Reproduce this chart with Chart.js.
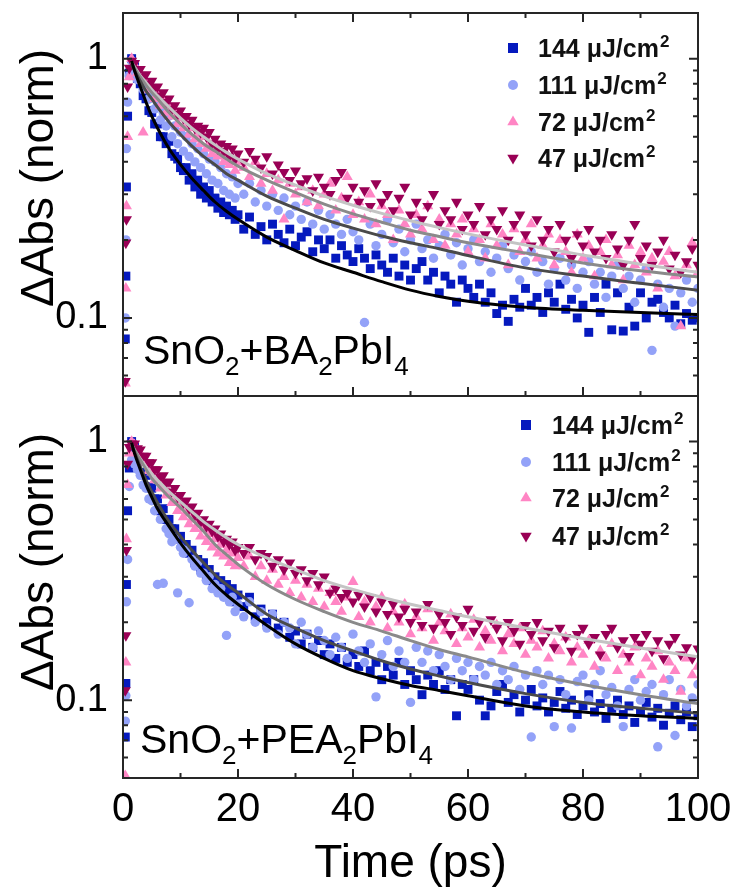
<!DOCTYPE html>
<html>
<head>
<meta charset="utf-8">
<script src="https://cdn.jsdelivr.net/npm/chart.js@4.4.1/dist/chart.umd.min.js"></script>
<style>
  html, body { margin: 0; padding: 0; background: #fff; }
  #wrap { position: relative; width: 741px; height: 892px; }
  #wrap canvas { position: absolute; left: 0; top: 0; }
</style>
</head>
<body>
<div id="wrap">
  <canvas id="topChart" width="741" height="892"></canvas>
  <canvas id="botChart" width="741" height="892"></canvas>
</div>
<script>
// time axis of the transient absorption traces (ps), shared by all traces
const timePs = [
  0.4, 0.5, 0.6, 0.8, 1.1, 1.5,
  2, 2.5, 3, 3.5, 4, 4.5, 5, 5.5, 6, 6.5,
  7, 7.5, 8, 8.5, 9, 9.5, 10, 10.5, 11, 11.5,
  12, 12.5, 13, 13.5, 14, 14.5, 15, 15.5, 16, 16.5,
  17, 17.5, 18, 18.5, 19, 19.5, 20,
  21, 22, 23, 24, 25, 26, 27, 28, 29, 30,
  31, 32, 33, 34, 35, 36, 37, 38, 39, 40,
  41, 42, 43, 44, 45, 46, 47, 48, 49, 50,
  51, 52, 53, 54, 55, 56, 57, 58, 59, 60,
  61, 62, 63, 64, 65, 66, 67, 68, 69, 70,
  71, 72, 73, 74, 75, 76, 77, 78, 79, 80,
  81, 82, 83, 84, 85, 86, 87, 88, 89, 90,
  91, 92, 93, 94, 95, 96, 97, 98, 99, 100
];

const fluenceLabels = ['144', '111', '72', '47'];

// ---- SnO2+BA2PbI4 (top panel) ----
const ba144 = [
  0.083, 0.145, 0.32, 0.6, 0.88, 1.0,
  0.93, 0.84, 0.8, 0.72, 0.7, 0.63, 0.62, 0.56, 0.56, 0.5,
  0.5, 0.47, 0.48, 0.43, 0.42, 0.41, 0.38, 0.37, 0.38, 0.34,
  0.36, 0.32, 0.34, 0.3, 0.32, 0.29, 0.31, 0.28, 0.29, 0.265,
  0.28, 0.255, 0.27, 0.25, 0.26, 0.24, 0.25,
  0.22, 0.245, 0.21, 0.225, 0.2, 0.23, 0.21, 0.195, 0.22, 0.19,
  0.205, 0.215, 0.18, 0.2, 0.185, 0.2, 0.17, 0.19, 0.175, 0.165,
  0.185, 0.17, 0.155, 0.175, 0.16, 0.15, 0.17, 0.145, 0.16, 0.14,
  0.155, 0.165, 0.14, 0.15, 0.125, 0.145, 0.135, 0.115, 0.14, 0.13,
  0.12, 0.135, 0.115, 0.125, 0.104, 0.112, 0.097, 0.118, 0.11, 0.13,
  0.112, 0.12, 0.105, 0.125, 0.115, 0.135, 0.108, 0.118, 0.1, 0.112,
  0.088, 0.12, 0.105, 0.135, 0.09, 0.125, 0.089, 0.11, 0.093, 0.125,
  0.1, 0.115, 0.118, 0.105, 0.1, 0.112, 0.095, 0.104, 0.098, 0.1
];
const ba111 = [
  0.1, 0.2, 0.45, 0.68, 0.86, 0.98,
  0.88, 0.83, 0.84, 0.76, 0.77, 0.7, 0.72, 0.64, 0.67, 0.58,
  0.62, 0.55, 0.6, 0.5, 0.55, 0.47, 0.52, 0.44, 0.5, 0.42,
  0.47, 0.4, 0.45, 0.38, 0.43, 0.36, 0.41, 0.34, 0.4, 0.33,
  0.38, 0.31, 0.36, 0.3, 0.35, 0.29, 0.33,
  0.3, 0.33, 0.28, 0.31, 0.27, 0.3, 0.26, 0.29, 0.25, 0.27,
  0.24, 0.28, 0.23, 0.26, 0.22, 0.25, 0.23, 0.21, 0.24, 0.215,
  0.2, 0.096, 0.23, 0.19, 0.21, 0.24, 0.195, 0.22, 0.18, 0.2,
  0.23, 0.185, 0.2, 0.17, 0.19, 0.21, 0.175, 0.195, 0.16, 0.185,
  0.2, 0.165, 0.18, 0.15, 0.17, 0.19, 0.155, 0.175, 0.14, 0.165,
  0.18, 0.15, 0.165, 0.135, 0.155, 0.17, 0.14, 0.16, 0.13, 0.15,
  0.165, 0.135, 0.15, 0.12, 0.145, 0.16, 0.13, 0.145, 0.115, 0.14,
  0.155, 0.075, 0.135, 0.11, 0.13, 0.093, 0.125, 0.14, 0.115, 0.13
];
const ba72 = [
  0.056, 0.13, 0.27, 0.5, 0.85, 1.0,
  0.95, 0.88, 0.88, 0.52, 0.82, 0.76, 0.77, 0.7, 0.73, 0.66,
  0.69, 0.62, 0.66, 0.6, 0.62, 0.56, 0.59, 0.54, 0.56, 0.51,
  0.54, 0.49, 0.51, 0.47, 0.5, 0.45, 0.47, 0.43, 0.46, 0.42,
  0.44, 0.4, 0.43, 0.39, 0.41, 0.37, 0.4,
  0.38, 0.35, 0.4, 0.33, 0.36, 0.31, 0.34, 0.24, 0.33, 0.3,
  0.32, 0.28, 0.31, 0.27, 0.3, 0.33, 0.26, 0.29, 0.35, 0.25,
  0.28, 0.24, 0.3, 0.23, 0.27, 0.25, 0.2, 0.26, 0.23, 0.21,
  0.25, 0.22, 0.27, 0.2, 0.24, 0.19, 0.23, 0.21, 0.24, 0.18,
  0.22, 0.2, 0.17, 0.23, 0.19, 0.21, 0.16, 0.22, 0.18, 0.2,
  0.23, 0.17, 0.19, 0.21, 0.16, 0.2, 0.18, 0.15, 0.21, 0.17,
  0.19, 0.145, 0.18, 0.2, 0.16, 0.175, 0.14, 0.19, 0.16, 0.18,
  0.15, 0.17, 0.13, 0.165, 0.18, 0.145, 0.093, 0.16, 0.195, 0.15
];
const ba47 = [
  0.057, 0.195, 0.24, 0.78, 0.92, 0.98,
  0.96, 0.9, 0.91, 0.85, 0.87, 0.8, 0.82, 0.77, 0.78, 0.72,
  0.74, 0.68, 0.7, 0.64, 0.66, 0.61, 0.63, 0.59, 0.6, 0.56,
  0.58, 0.54, 0.55, 0.52, 0.54, 0.5, 0.52, 0.47, 0.49, 0.45,
  0.47, 0.44, 0.46, 0.42, 0.45, 0.41, 0.43,
  0.4, 0.44, 0.41, 0.38, 0.42, 0.36, 0.39, 0.365, 0.34, 0.37,
  0.33, 0.345, 0.31, 0.35, 0.32, 0.3, 0.34, 0.365, 0.29, 0.32,
  0.28, 0.31, 0.27, 0.33, 0.28, 0.3, 0.26, 0.29, 0.32, 0.25,
  0.28, 0.24, 0.27, 0.3, 0.23, 0.26, 0.24, 0.28, 0.22, 0.25,
  0.23, 0.27, 0.21, 0.24, 0.22, 0.26, 0.2, 0.23, 0.25, 0.21,
  0.19, 0.24, 0.2, 0.22, 0.18, 0.23, 0.2, 0.17, 0.21, 0.19,
  0.22, 0.18, 0.2, 0.17, 0.21, 0.185, 0.16, 0.2, 0.23, 0.17,
  0.19, 0.16, 0.18, 0.2, 0.155, 0.175, 0.15, 0.165, 0.185, 0.16
];

// ---- SnO2+PEA2PbI4 (bottom panel) ----
const pea144 = [
  0.072, 0.116, 0.28, 0.54, 0.79, 1.0,
  0.95, 0.85, 0.84, 0.76, 0.74, 0.67, 0.66, 0.6, 0.6, 0.54,
  0.55, 0.5, 0.5, 0.46, 0.46, 0.42, 0.43, 0.39, 0.4, 0.37,
  0.38, 0.34, 0.35, 0.32, 0.34, 0.3, 0.32, 0.29, 0.3, 0.27,
  0.29, 0.26, 0.28, 0.25, 0.27, 0.24, 0.255,
  0.23, 0.25, 0.21, 0.225, 0.2, 0.215, 0.19, 0.2, 0.175, 0.185,
  0.165, 0.18, 0.16, 0.17, 0.15, 0.165, 0.145, 0.16, 0.14, 0.15,
  0.135, 0.155, 0.13, 0.14, 0.12, 0.135, 0.125, 0.14, 0.115, 0.13,
  0.12, 0.105, 0.125, 0.115, 0.13, 0.11, 0.12, 0.087, 0.115, 0.11,
  0.12, 0.1, 0.087, 0.095, 0.108, 0.115, 0.098, 0.105, 0.09, 0.1,
  0.11, 0.095, 0.102, 0.09, 0.098, 0.108, 0.093, 0.1, 0.088, 0.095,
  0.105, 0.09, 0.097, 0.085, 0.093, 0.1, 0.088, 0.095, 0.082, 0.09,
  0.098, 0.086, 0.093, 0.08, 0.089, 0.095, 0.084, 0.09, 0.079, 0.087
];
const pea111 = [
  0.083, 0.104, 0.24, 0.35, 0.67, 0.85,
  0.82, 0.78, 0.74, 0.68, 0.66, 0.6, 0.59, 0.54, 0.28, 0.5,
  0.283, 0.46, 0.44, 0.41, 0.42, 0.26, 0.39, 0.37, 0.38, 0.238,
  0.35, 0.33, 0.34, 0.31, 0.31, 0.29, 0.3, 0.27, 0.28, 0.26,
  0.27, 0.25, 0.178, 0.24, 0.25, 0.22, 0.235,
  0.21, 0.24, 0.2, 0.22, 0.19, 0.215, 0.18, 0.2, 0.19, 0.165,
  0.2, 0.18, 0.16, 0.185, 0.17, 0.15, 0.175, 0.16, 0.145, 0.18,
  0.155, 0.14, 0.165, 0.103, 0.15, 0.17, 0.135, 0.155, 0.14, 0.098,
  0.16, 0.14, 0.155, 0.13, 0.15, 0.135, 0.12, 0.145, 0.13, 0.14,
  0.12, 0.135, 0.125, 0.14, 0.115, 0.13, 0.12, 0.135, 0.11, 0.125,
  0.072, 0.13, 0.115, 0.125, 0.079, 0.12, 0.105, 0.078, 0.118, 0.125,
  0.1, 0.115, 0.13, 0.105, 0.112, 0.095, 0.079, 0.11, 0.12, 0.1,
  0.108, 0.115, 0.066, 0.105, 0.12, 0.073, 0.11, 0.095, 0.102, 0.115
];
const pea72 = [
  0.051, 0.14, 0.42, 0.68, 0.9, 1.0,
  0.97, 0.92, 0.9, 0.84, 0.83, 0.77, 0.76, 0.71, 0.71, 0.66,
  0.67, 0.62, 0.63, 0.58, 0.59, 0.54, 0.56, 0.51, 0.53, 0.48,
  0.5, 0.46, 0.48, 0.43, 0.46, 0.41, 0.44, 0.39, 0.42, 0.37,
  0.4, 0.36, 0.38, 0.34, 0.37, 0.33, 0.355,
  0.33, 0.36, 0.3, 0.33, 0.29, 0.32, 0.28, 0.3, 0.26, 0.29,
  0.25, 0.28, 0.24, 0.27, 0.23, 0.26, 0.24, 0.22, 0.25, 0.287,
  0.21, 0.24, 0.2, 0.23, 0.25, 0.19, 0.22, 0.2, 0.235, 0.18,
  0.21, 0.19, 0.225, 0.17, 0.2, 0.185, 0.215, 0.165, 0.19, 0.175,
  0.205, 0.16, 0.185, 0.17, 0.195, 0.155, 0.18, 0.165, 0.19, 0.15,
  0.17, 0.16, 0.185, 0.145, 0.165, 0.155, 0.175, 0.14, 0.16, 0.15,
  0.17, 0.135, 0.155, 0.145, 0.165, 0.13, 0.15, 0.14, 0.16, 0.125,
  0.145, 0.135, 0.155, 0.12, 0.14, 0.13, 0.108, 0.145, 0.125, 0.135
];
const pea47 = [
  0.109, 0.178, 0.38, 0.82, 0.95, 0.98,
  0.98, 0.94, 0.93, 0.88, 0.88, 0.83, 0.83, 0.78, 0.78, 0.73,
  0.74, 0.69, 0.7, 0.64, 0.66, 0.61, 0.62, 0.58, 0.59, 0.55,
  0.56, 0.52, 0.53, 0.49, 0.5, 0.47, 0.48, 0.45, 0.46, 0.43,
  0.44, 0.41, 0.42, 0.4, 0.41, 0.38, 0.39,
  0.37, 0.39, 0.35, 0.37, 0.36, 0.33, 0.35, 0.32, 0.34, 0.31,
  0.32, 0.29, 0.31, 0.28, 0.3, 0.26, 0.27, 0.25, 0.26, 0.24,
  0.255, 0.23, 0.25, 0.22, 0.24, 0.215, 0.235, 0.21, 0.225, 0.2,
  0.22, 0.195, 0.235, 0.19, 0.215, 0.2, 0.18, 0.21, 0.195, 0.225,
  0.185, 0.2, 0.175, 0.205, 0.19, 0.17, 0.2, 0.185, 0.165, 0.195,
  0.18, 0.2, 0.17, 0.185, 0.16, 0.19, 0.175, 0.155, 0.18, 0.19,
  0.165, 0.175, 0.15, 0.18, 0.19, 0.16, 0.17, 0.148, 0.175, 0.165,
  0.18, 0.155, 0.17, 0.145, 0.165, 0.175, 0.15, 0.16, 0.145, 0.158
];

// fitted decay curves, sampled at fitTimePs
const fitTimePs = [1.5, 2, 3, 4, 5, 6, 8, 10, 12, 14, 16, 18, 20, 25, 30, 35, 40, 45, 50, 55, 60, 70, 80, 90, 100];
const fitBa144 = [0.98, 0.9, 0.78, 0.68, 0.6, 0.54, 0.45, 0.39, 0.345, 0.31, 0.28, 0.258, 0.24, 0.205, 0.182, 0.163, 0.15, 0.138, 0.128, 0.121, 0.116, 0.11, 0.107, 0.105, 0.103];
const fitBa111 = [0.95, 0.9, 0.82, 0.75, 0.7, 0.65, 0.57, 0.51, 0.46, 0.42, 0.39, 0.36, 0.34, 0.295, 0.265, 0.24, 0.222, 0.207, 0.195, 0.185, 0.174, 0.156, 0.145, 0.136, 0.128];
const fitBa72 = [0.97, 0.92, 0.85, 0.79, 0.74, 0.7, 0.62, 0.56, 0.51, 0.47, 0.44, 0.41, 0.385, 0.34, 0.305, 0.275, 0.252, 0.234, 0.218, 0.206, 0.195, 0.178, 0.163, 0.152, 0.144];
const fitBa47 = [0.97, 0.93, 0.86, 0.81, 0.76, 0.72, 0.65, 0.59, 0.54, 0.5, 0.465, 0.435, 0.41, 0.36, 0.325, 0.295, 0.272, 0.253, 0.237, 0.223, 0.211, 0.191, 0.175, 0.161, 0.15];
const fitPea144 = [0.99, 0.9, 0.78, 0.68, 0.61, 0.55, 0.47, 0.405, 0.355, 0.315, 0.28, 0.255, 0.235, 0.195, 0.165, 0.145, 0.13, 0.121, 0.114, 0.109, 0.104, 0.095, 0.09, 0.087, 0.085];
const fitPea111 = [0.97, 0.91, 0.8, 0.71, 0.64, 0.58, 0.49, 0.43, 0.38, 0.34, 0.305, 0.28, 0.26, 0.215, 0.19, 0.17, 0.155, 0.142, 0.132, 0.124, 0.117, 0.106, 0.098, 0.093, 0.089];
const fitPea72 = [0.98, 0.93, 0.85, 0.78, 0.72, 0.68, 0.61, 0.555, 0.5, 0.45, 0.4, 0.365, 0.335, 0.28, 0.245, 0.22, 0.2, 0.185, 0.17, 0.157, 0.147, 0.128, 0.115, 0.105, 0.097];
const fitPea47 = [0.97, 0.93, 0.86, 0.8, 0.75, 0.71, 0.64, 0.585, 0.535, 0.49, 0.455, 0.425, 0.4, 0.355, 0.32, 0.29, 0.268, 0.25, 0.235, 0.222, 0.21, 0.19, 0.173, 0.159, 0.147];

// axis ticks
const xTickValues = [0, 10, 20, 30, 40, 50, 60, 70, 80, 90, 100];
const yTickValues = [0.05, 0.06, 0.07, 0.08, 0.09, 0.1, 0.2, 0.3, 0.4, 0.5, 0.6, 0.7, 0.8, 0.9, 1];

const FONT = '"Liberation Sans", Arial, Helvetica, sans-serif';
const COLORS = ['#0519be', '#93a2f8', '#ff85c4', '#990055'];
const FIT_COLORS = ['#000000', '#4a4a4a', '#8a8a8a', '#c4c4c4'];
const MARKS = [
  { style: 'rect', radius: 6.3, rotation: 0 },
  { style: 'circle', radius: 4.7, rotation: 0 },
  { style: 'triangle', radius: 6.4, rotation: 0 },
  { style: 'triangle', radius: 6.4, rotation: 180 }
];

function scatterSet(vals, i) {
  return {
    type: 'scatter',
    data: timePs.map((t, k) => ({ x: t, y: vals[k] })),
    pointStyle: MARKS[i].style,
    rotation: MARKS[i].rotation,
    pointRadius: MARKS[i].radius,
    pointBackgroundColor: COLORS[i],
    pointBorderWidth: 0,
    showLine: false,
    order: 10 - i
  };
}

function fitSet(vals, i) {
  return {
    type: 'line',
    data: fitTimePs.map((t, k) => ({ x: t, y: vals[k] })),
    borderColor: FIT_COLORS[i],
    borderWidth: 3,
    pointRadius: 0,
    fill: false,
    cubicInterpolationMode: 'monotone',
    order: i
  };
}

function drawMarker(ctx, i, x, y) {
  const m = MARKS[i];
  ctx.fillStyle = COLORS[i];
  ctx.beginPath();
  if (m.style === 'rect') {
    const s = 5;
    ctx.rect(x - s, y - s, 2 * s, 2 * s);
  } else if (m.style === 'circle') {
    ctx.arc(x, y, 5, 0, Math.PI * 2);
  } else {
    const r = 6.6, dir = m.rotation ? -1 : 1;
    ctx.moveTo(x, y - dir * r);
    ctx.lineTo(x - r * 0.866, y + dir * r * 0.5);
    ctx.lineTo(x + r * 0.866, y + dir * r * 0.5);
    ctx.closePath();
  }
  ctx.fill();
}

// text with subscripts: parts = [[text, isSub], ...]
function drawSubText(ctx, parts, x, y, size) {
  let cx = x;
  parts.forEach(([txt, sub]) => {
    const fs = sub ? Math.round(size * 0.64) : size;
    ctx.font = fs + 'px ' + FONT;
    ctx.fillText(txt, cx, sub ? y + size * 0.26 : y);
    cx += ctx.measureText(txt).width;
  });
}

const panelDecor = {
  id: 'panelDecor',
  afterDraw(chart, args, o) {
    const ctx = chart.ctx;
    const { left, right, top, bottom } = chart.chartArea;
    const xs = chart.scales.x, ys = chart.scales.y;
    ctx.save();
    ctx.strokeStyle = '#262626';
    ctx.lineWidth = 2;
    ctx.beginPath();
    xs.ticks.forEach(t => {
      const px = xs.getPixelForValue(t.value);
      const len = t.value % 20 === 0 ? 9 : 5;
      ctx.moveTo(px, bottom); ctx.lineTo(px, bottom - len);
      if (o.topTicks) { ctx.moveTo(px, top); ctx.lineTo(px, top + len); }
    });
    ys.ticks.forEach(t => {
      const py = ys.getPixelForValue(t.value);
      const len = (t.value === 1 || t.value === 0.1) ? 9 : 5;
      ctx.moveTo(left, py); ctx.lineTo(left + len, py);
      ctx.moveTo(right, py); ctx.lineTo(right - len, py);
    });
    ctx.stroke();
    ctx.strokeRect(left, top, right - left, bottom - top);

    ctx.fillStyle = '#000';
    ctx.textBaseline = 'alphabetic';

    // y axis title
    ctx.save();
    ctx.translate(53, o.yTitleY);
    ctx.rotate(-Math.PI / 2);
    ctx.textAlign = 'center';
    ctx.font = '46px ' + FONT;
    ctx.fillText('\u0394Abs (norm)', 0, 0);
    ctx.restore();

    // sample label
    ctx.textAlign = 'left';
    drawSubText(ctx, o.label, o.labelX, o.labelY, 41);

    // legend
    fluenceLabels.forEach((f, i) => {
      const y = o.legendY[i];
      drawMarker(ctx, i, o.legendX, y);
      ctx.fillStyle = '#111';
      ctx.font = 'bold 25px ' + FONT;
      const txt = f + ' \u03bcJ/cm';
      ctx.fillText(txt, o.legendTextX, y + 9);
      const w = ctx.measureText(txt).width;
      ctx.font = 'bold 17px ' + FONT;
      ctx.fillText('2', o.legendTextX + w + 1, y - 1);
    });

    // x axis title
    if (o.xTitle) {
      ctx.fillStyle = '#000';
      ctx.textAlign = 'center';
      ctx.font = '46px ' + FONT;
      ctx.fillText(o.xTitle, (left + right) / 2, 877);
    }
    ctx.restore();
  }
};

function makeChart(id, sets, fits, isBottom, decor) {
  const datasets = [];
  fits.forEach((v, i) => datasets.push(fitSet(v, i)));
  sets.forEach((v, i) => datasets.push(scatterSet(v, i)));
  return new Chart(document.getElementById(id), {
    type: 'scatter',
    data: { datasets },
    options: {
      responsive: false,
      animation: false,
      events: [],
      layout: { padding: { top: isBottom ? 396 : 13, right: 43, bottom: 0, left: 0 } },
      plugins: { legend: { display: false }, tooltip: { enabled: false }, panelDecor: decor },
      scales: {
        x: {
          type: 'linear', min: 0, max: 100,
          afterBuildTicks: s => { s.ticks = xTickValues.map(v => ({ value: v })); },
          afterFit: s => { s.height = isBottom ? 114 : 496; s.paddingLeft = 0; s.paddingRight = 0; },
          grid: { display: false, drawTicks: false },
          border: { display: false },
          ticks: {
            display: isBottom, autoSkip: false, maxRotation: 0, padding: 8,
            color: '#000', font: { size: 40, family: FONT },
            callback: v => (v % 20 === 0 ? String(v) : '')
          }
        },
        y: {
          type: 'logarithmic', min: 0.05, max: 1.5,
          afterBuildTicks: s => { s.ticks = yTickValues.map(v => ({ value: v })); },
          afterFit: s => { s.width = 123; s.paddingTop = 0; s.paddingBottom = 0; },
          grid: { display: false, drawTicks: false },
          border: { display: false },
          ticks: {
            autoSkip: false, padding: 15,
            color: '#000', font: { size: 38, family: FONT },
            callback: v => (v === 1 ? '1' : v === 0.1 ? '0.1' : '')
          }
        }
      }
    },
    plugins: [panelDecor]
  });
}

makeChart('topChart', [ba144, ba111, ba72, ba47], [fitBa144, fitBa111, fitBa72, fitBa47], false, {
  topTicks: true,
  yTitleY: 178,
  label: [['SnO', 0], ['2', 1], ['+BA', 0], ['2', 1], ['PbI', 0], ['4', 1]],
  labelX: 143, labelY: 364,
  legendX: 513, legendTextX: 538, legendY: [48, 85, 122, 158]
});

makeChart('botChart', [pea144, pea111, pea72, pea47], [fitPea144, fitPea111, fitPea72, fitPea47], true, {
  topTicks: false,
  yTitleY: 562,
  label: [['SnO', 0], ['2', 1], ['+PEA', 0], ['2', 1], ['PbI', 0], ['4', 1]],
  labelX: 140, labelY: 753,
  legendX: 526, legendTextX: 552, legendY: [425, 462, 498, 536],
  xTitle: 'Time (ps)'
});
</script>
</body>
</html>
